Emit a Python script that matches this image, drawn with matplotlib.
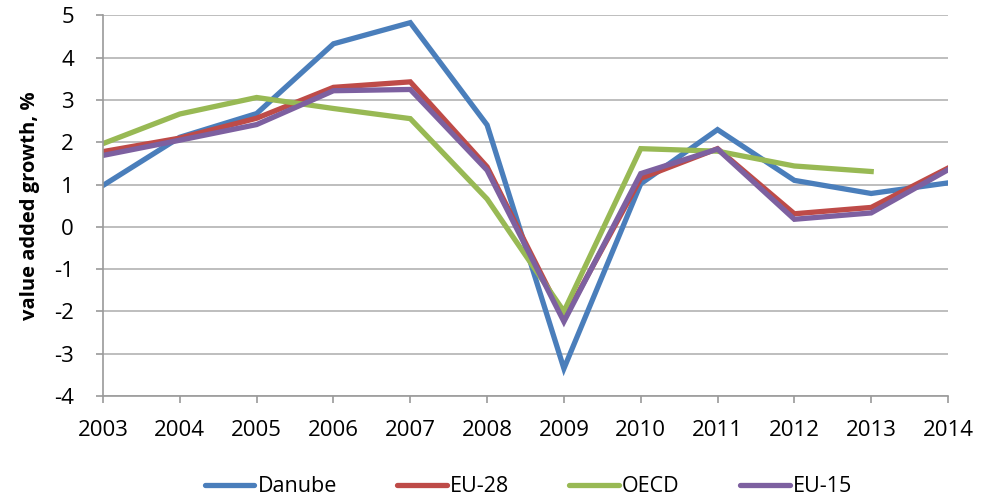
import matplotlib
matplotlib.use('Agg')
import matplotlib.pyplot as plt

# data
years = [2003, 2004, 2005, 2006, 2007, 2008, 2009, 2010, 2011, 2012, 2013, 2014]
danube = [0.98, 2.12, 2.68, 4.33, 4.83, 2.41, -3.35, 1.02, 2.3, 1.1, 0.79, 1.04]
eu28 = [1.78, 2.1, 2.57, 3.3, 3.43, 1.42, -2.18, 1.15, 1.85, 0.31, 0.46, 1.39]
oecd = [1.97, 2.67, 3.06, 2.8, 2.56, 0.66, -2.0, 1.85, 1.79, 1.44, 1.31]
eu15 = [1.69, 2.05, 2.42, 3.22, 3.25, 1.34, -2.24, 1.26, 1.84, 0.18, 0.33, 1.35]

plt.rcParams['font.family'] = ['Open Sans', 'DejaVu Sans']
plt.rcParams['axes.unicode_minus'] = False

fig = plt.figure(figsize=(9.84, 4.99), dpi=100)
ax = fig.add_axes([0.1047, 0.2064, 0.8587, 0.7626])

lw = 3.8
ax.plot(years, danube, color='#4A7EBB', lw=lw, label='Danube', solid_joinstyle='miter')
ax.plot(years, eu28, color='#BE4B48', lw=lw, label='EU-28', solid_joinstyle='miter')
ax.plot(years[:len(oecd)], oecd, color='#98B954', lw=lw, label='OECD', solid_joinstyle='miter')
ax.plot(years, eu15, color='#7D60A0', lw=lw, label='EU-15', solid_joinstyle='miter')

ax.set_xlim(2003, 2014)
ax.set_ylim(-4, 5)
ax.set_xticks(years)
ax.set_yticks(range(-4, 6))
ax.grid(axis='y', color='#B3B3B3', lw=1.2)
ax.set_axisbelow(True)

for s in ['top', 'right']:
    ax.spines[s].set_visible(False)
for s in ['left', 'bottom']:
    ax.spines[s].set_color('#9A9A9A')
    ax.spines[s].set_linewidth(1.2)

ax.tick_params(axis='both', colors='#9A9A9A', length=5, width=1.2, labelcolor='black', labelsize=16)
ax.tick_params(axis='y', pad=16)
ax.tick_params(axis='x', pad=12)

ax.set_ylabel('value added growth, %', fontsize=14.5, fontweight='bold', labelpad=10)

leg = fig.legend(loc='lower center', ncol=4, frameon=False, fontsize=15.5,
                 bbox_to_anchor=(0.537, -0.035), handlelength=2.3, columnspacing=2.8,
                 handletextpad=0.15)
for h in leg.get_lines():
    h.set_solid_capstyle('round')

fig.savefig('out.png', dpi=100)
